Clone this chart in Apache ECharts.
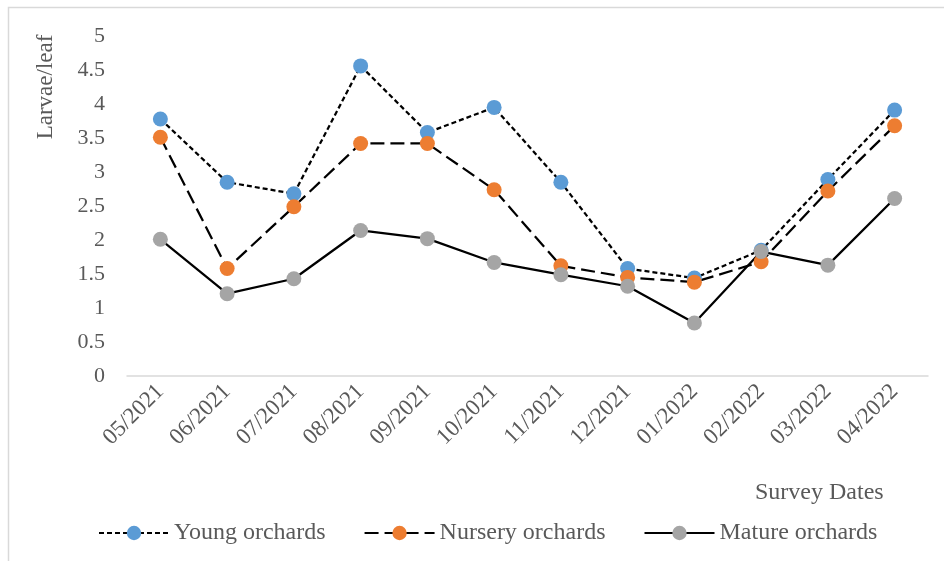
<!DOCTYPE html>
<html>
<head>
<meta charset="utf-8">
<script src="https://cdn.jsdelivr.net/npm/echarts@6/dist/echarts.min.js"></script>
<style>
  html, body { margin: 0; padding: 0; background: #fff; }
  #chart { width: 944px; height: 561px; }
</style>
</head>
<body>
<div id="chart"></div>
<script>
// survey months
var dates = ['05/2021', '06/2021', '07/2021', '08/2021', '09/2021', '10/2021',
             '11/2021', '12/2021', '01/2022', '02/2022', '03/2022', '04/2022'];

// larvae per leaf
var young   = [3.78, 2.85, 2.68, 4.56, 3.58, 3.95, 2.85, 1.58, 1.44, 1.85, 2.89, 3.91];
var nursery = [3.51, 1.58, 2.49, 3.42, 3.42, 2.74, 1.62, 1.45, 1.38, 1.68, 2.72, 3.68];
var mature  = [2.01, 1.21, 1.43, 2.14, 2.02, 1.67, 1.49, 1.32, 0.78, 1.83, 1.63, 2.61];

var font = 'Liberation Serif';
var myChart = echarts.init(document.getElementById('chart'));

function mkSeries(name, data, color, dash) {
    return {
        name: name,
        type: 'line',
        data: data,
        symbol: 'circle',
        symbolSize: 15,
        itemStyle: { color: color },
        lineStyle: { color: '#000', width: 2.25, type: dash },
        emphasis: { disabled: true }
    };
}

myChart.setOption({
    animation: false,
    textStyle: { fontFamily: font },
    graphic: [
        { type: 'rect', shape: { x: 8.5, y: 7.5, width: 950, height: 560 },
          style: { fill: 'none', stroke: '#d9d9d9', lineWidth: 1.5 } },
        { type: 'text', x: 46, y: 87, rotation: Math.PI / 2,
          style: { text: 'Larvae/leaf', font: '23px "Liberation Serif"', fill: '#595959',
                   align: 'center', verticalAlign: 'middle' } },
        { type: 'text', x: 755, y: 493,
          style: { text: 'Survey Dates', font: '24px "Liberation Serif"', fill: '#595959',
                   verticalAlign: 'middle' } }
    ],
    grid: { left: 127, right: 16, top: 36, bottom: 185 },
    legend: {
        top: 516,
        left: 93,
        itemWidth: 70,
        itemHeight: 18,
        itemGap: 38,
        textStyle: { fontFamily: font, fontSize: 24, color: '#595959' },
        data: ['Young orchards', 'Nursery orchards', 'Mature orchards']
    },
    xAxis: {
        type: 'category',
        data: dates,
        boundaryGap: true,
        axisLine: { lineStyle: { color: '#d9d9d9', width: 1.5 } },
        axisTick: { show: false },
        axisLabel: { rotate: 45, fontSize: 23, color: '#595959', margin: 12, interval: 0 }
    },
    yAxis: {
        type: 'value',
        min: 0,
        max: 5,
        interval: 0.5,
        splitLine: { show: false },
        axisLine: { show: false },
        axisTick: { show: false },
        axisLabel: { fontSize: 22, color: '#595959', margin: 22 }
    },
    series: [
        mkSeries('Young orchards', young, '#5b9bd5', [5, 3]),
        mkSeries('Nursery orchards', nursery, '#ed7d31', [14, 6]),
        mkSeries('Mature orchards', mature, '#a5a5a5', 'solid')
    ]
});
</script>
</body>
</html>
